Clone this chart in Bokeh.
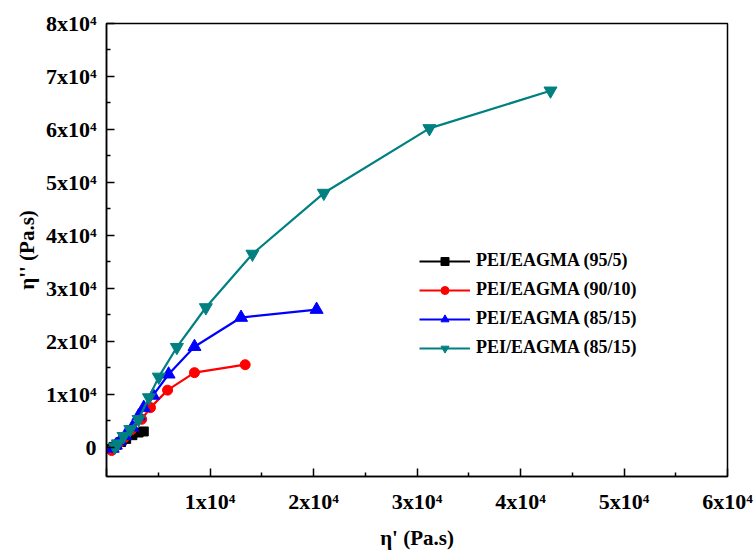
from bokeh.plotting import figure
from bokeh.models import Range1d, Legend, LegendItem, FixedTicker
from bokeh.embed import file_html
from bokeh.resources import INLINE

# Data (η' , η'')
x_95_5 = [400, 700, 1000, 1400, 1900, 2500, 3100, 3600]
y_95_5 = [-300, 100, 500, 1000, 1600, 2300, 2800, 3000]

x_90_10 = [500, 800, 1200, 1700, 2400, 3400, 4250, 5900, 8500, 13400]
y_90_10 = [-600, 0, 800, 1800, 3300, 5300, 7500, 10800, 14100, 15600]

x_85_15a = [600, 900, 1300, 1800, 2500, 3100, 3600, 4500, 6000, 8500, 13000, 20300]
y_85_15a = [-200, 400, 1200, 2200, 3800, 5900, 7500, 9800, 13800, 19000, 24500, 26000]

x_85_15b = [800, 1100, 1650, 2300, 3100, 4100, 5050, 6800, 9600, 14100, 21000, 31200, 42900]
y_85_15b = [100, 700, 2100, 3400, 5300, 9400, 13300, 18900, 26400, 36500, 48000, 60200, 67300]

labels = ["PEI/EAGMA (95/5)", "PEI/EAGMA (90/10)", "PEI/EAGMA (85/15)", "PEI/EAGMA (85/15)"]

x_ticks = [0, 10000, 20000, 30000, 40000, 50000, 60000]
x_tick_labels = ["", "1x10⁴", "2x10⁴", "3x10⁴", "4x10⁴", "5x10⁴", "6x10⁴"]
y_ticks = [0, 10000, 20000, 30000, 40000, 50000, 60000, 70000, 80000]
y_tick_labels = ["0", "1x10⁴", "2x10⁴", "3x10⁴", "4x10⁴", "5x10⁴", "6x10⁴", "7x10⁴", "8x10⁴"]

FONT = "Liberation Serif"

p = figure(width=754, height=552, output_backend="svg", toolbar_location=None,
           x_range=Range1d(0, 60000), y_range=Range1d(-5500, 80000),
           min_border_left=106, min_border_right=27, min_border_top=23, min_border_bottom=76)

p.xgrid.visible = False
p.ygrid.visible = False
p.outline_line_color = "black"
p.outline_line_width = 1.5

p.xaxis.ticker = FixedTicker(ticks=x_ticks, minor_ticks=[t + 5000 for t in x_ticks[:-1]])
p.yaxis.ticker = FixedTicker(ticks=y_ticks, minor_ticks=[t + 5000 for t in y_ticks[:-1]])
p.xaxis.major_label_overrides = {t: l for t, l in zip(x_ticks, x_tick_labels)}
p.yaxis.major_label_overrides = {t: l for t, l in zip(y_ticks, y_tick_labels)}

for ax in (p.xaxis, p.yaxis):
    ax.axis_line_width = 1.5
    ax.axis_line_color = "black"
    ax.major_tick_in = 8
    ax.major_tick_out = 0
    ax.minor_tick_in = 4
    ax.minor_tick_out = 0
    ax.major_tick_line_width = 1.5
    ax.minor_tick_line_width = 1.5
    ax.major_label_text_font = FONT
    ax.major_label_text_font_style = "bold"
    ax.major_label_text_font_size = "22px"
    ax.major_label_text_color = "black"
    ax.axis_label_text_font = FONT
    ax.axis_label_text_font_style = "bold"
    ax.axis_label_text_font_size = "21px"
    ax.axis_label_text_color = "black"

p.xaxis.axis_label = "η' (Pa.s)"
p.yaxis.axis_label = "η'' (Pa.s)"
p.xaxis.major_label_standoff = 12
p.xaxis.axis_label_standoff = 9
p.yaxis.major_label_standoff = 10
p.yaxis.axis_label_standoff = 4

series = [
    (x_95_5, y_95_5, "black", "square", 9),
    (x_90_10, y_90_10, "#ff0000", "circle", 10),
    (x_85_15a, y_85_15a, "#0000ff", "triangle", 13),
    (x_85_15b, y_85_15b, "#008080", "inverted_triangle", 13),
]

items = []
for (xs, ys, col, mk, sz), lab in zip(series, labels):
    ln = p.line(xs, ys, line_color=col, line_width=2.2)
    sc = p.scatter(xs, ys, marker=mk, size=sz, fill_color=col, line_color=col)
    items.append(LegendItem(label=lab, renderers=[ln, sc]))

legend = Legend(items=items, location=(313, 118), padding=0, margin=0,
                border_line_color=None, background_fill_alpha=0,
                glyph_width=51, glyph_height=20, label_height=20,
                label_standoff=6, spacing=8,
                label_text_font=FONT, label_text_font_style="bold",
                label_text_font_size="18px", label_text_color="black")
p.add_layout(legend)

open("out.html", "w").write(file_html(p, INLINE))
